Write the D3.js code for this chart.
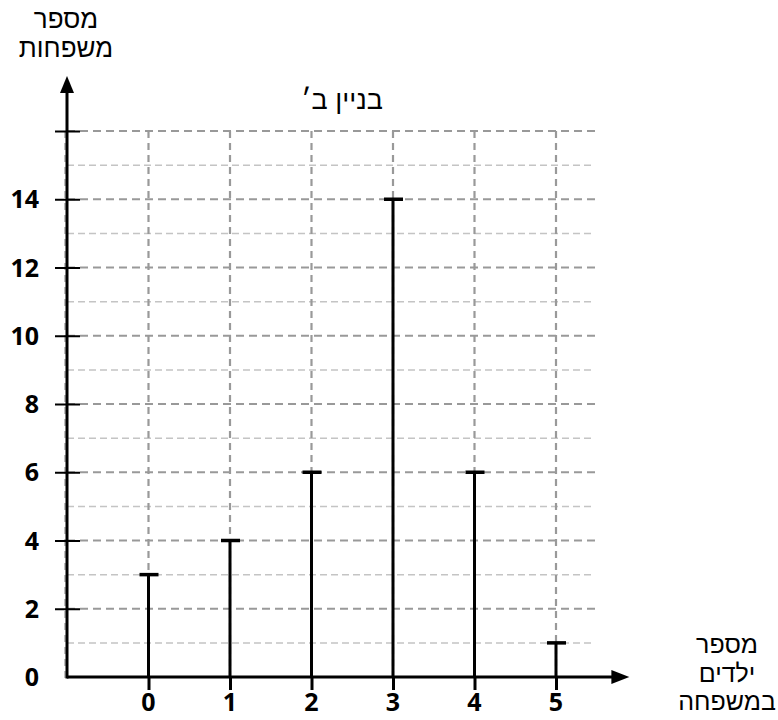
<!DOCTYPE html>
<html lang="he">
<head>
<meta charset="UTF-8">
<title>בניין ב׳</title>
<style>
  body { margin: 0; background: #fff; }
  .num text { font-family: "Open Sans", sans-serif; font-weight: 700; font-size: 25px; fill: #000; }
  .heb { font-family: "Liberation Sans", "DejaVu Sans", sans-serif; fill: #000; }
</style>
</head>
<body>
<svg id="svg" width="778" height="720"></svg>
<script src="https://d3js.org/d3.v7.min.js"></script>
<script>
  // data
  const children = [0, 1, 2, 3, 4, 5]
  const families = [3, 4, 6, 14, 6, 1]
  const yTicks = [2, 4, 6, 8, 10, 12, 14, 16]
  const yLabels = [0, 2, 4, 6, 8, 10, 12, 14]
  const minorTicks = [1, 3, 5, 7, 9, 11, 13, 15]

  const svg = d3.select('#svg')

  // scales
  const x = d3.scaleLinear().domain([-1, 5]).range([67, 556])
  const y = d3.scaleLinear().domain([0, 16]).range([677, 131])

  const xMin = x(-1), xGrid = 598, xEnd = x(5.9)
  const yTop = y(16), yEnd = 76

  // grid
  const grid = svg.append('g')
  grid.selectAll('.minor').data(minorTicks).enter().append('line')
    .attr('x1', xMin).attr('x2', xGrid - 3)
    .attr('y1', d => y(d)).attr('y2', d => y(d))
    .attr('stroke', '#c4c4c4').attr('stroke-width', 1.5)
    .attr('stroke-dasharray', '7,4')
  grid.selectAll('.major').data(yTicks).enter().append('line')
    .attr('x1', xMin).attr('x2', xGrid)
    .attr('y1', d => y(d)).attr('y2', d => y(d))
    .attr('stroke', '#999').attr('stroke-width', 2)
    .attr('stroke-dasharray', '8,5')
  grid.selectAll('.vert').data(children).enter().append('line')
    .attr('x1', d => x(d)).attr('x2', d => x(d))
    .attr('y1', yTop).attr('y2', y(0))
    .attr('stroke', '#999').attr('stroke-width', 2.2)
    .attr('stroke-dasharray', '7,5')
  grid.append('line')
    .attr('x1', xMin - 2).attr('x2', xMin - 2)
    .attr('y1', yTop).attr('y2', y(0) + 6)
    .attr('stroke', '#aaa').attr('stroke-width', 1.5)
    .attr('stroke-dasharray', '7,5')

  // bars (stick + cap)
  const bars = svg.append('g').attr('stroke', '#000').attr('stroke-width', 3)
  bars.selectAll('.stick').data(children).enter().append('line')
    .attr('x1', d => x(d)).attr('x2', d => x(d))
    .attr('y1', y(0)).attr('y2', (d, i) => y(families[i]))
  bars.selectAll('.cap').data(children).enter().append('line')
    .attr('x1', d => x(d) - 9).attr('x2', d => x(d) + 10)
    .attr('y1', (d, i) => y(families[i])).attr('y2', (d, i) => y(families[i]))
    .attr('stroke-width', 3.5)

  // y axis
  const leftAxis = d3.axisLeft(y).tickValues(yTicks).tickSize(12).tickFormat('')
  const yAxis = svg.append('g').attr('transform', `translate(${xMin},0)`).call(leftAxis)
  yAxis.select('.domain').remove()
  yAxis.selectAll('.tick line').attr('x1', 13).attr('stroke', '#000').attr('stroke-width', 2)

  const yLab = svg.append('g').attr('class', 'num')
  yLab.selectAll('text').data(yLabels).enter().append('text')
    .attr('x', 39).attr('y', d => y(d) + 9)
    .attr('text-anchor', 'end')
    .text(d => d)

  // x axis
  const bottomAxis = d3.axisBottom(x).tickValues(children).tickSize(13).tickFormat('')
  const xAxis = svg.append('g').attr('transform', `translate(0,${y(0)})`).call(bottomAxis)
  xAxis.select('.domain').remove()
  xAxis.selectAll('.tick line').attr('stroke', '#000').attr('stroke-width', 3)

  const xLab = svg.append('g').attr('class', 'num')
  xLab.selectAll('text').data(children).enter().append('text')
    .attr('x', d => x(d)).attr('y', 711)
    .attr('text-anchor', 'middle')
    .text(d => d)

  // axis lines with arrows
  svg.append('line')
    .attr('x1', xMin).attr('x2', xMin)
    .attr('y1', y(0) + 1.5).attr('y2', yEnd + 12)
    .attr('stroke', '#000').attr('stroke-width', 3)
  svg.append('path')
    .attr('d', `M${xMin},${yEnd} L${xMin - 7},${yEnd + 17} L${xMin + 7},${yEnd + 17} Z`)
    .attr('fill', '#000')
  svg.append('line')
    .attr('x1', xMin).attr('x2', xEnd - 12)
    .attr('y1', y(0)).attr('y2', y(0))
    .attr('stroke', '#000').attr('stroke-width', 3)
  svg.append('path')
    .attr('d', `M${xEnd},${y(0)} L${xEnd - 18},${y(0) - 7} L${xEnd - 18},${y(0) + 7} Z`)
    .attr('fill', '#000')

  // texts
  svg.append('text').attr('class', 'heb')
    .attr('x', 342).attr('y', 109).attr('text-anchor', 'middle')
    .attr('font-size', 27).text('בניין ב׳')

  const yTitle = ['מספר', 'משפחות']
  svg.append('g').selectAll('text').data(yTitle).enter().append('text')
    .attr('class', 'heb')
    .attr('x', 66).attr('y', (d, i) => 28 + i * 29)
    .attr('text-anchor', 'middle').attr('font-size', 26)
    .text(d => d)

  const xTitle = ['מספר', 'ילדים', 'במשפחה']
  svg.append('g').selectAll('text').data(xTitle).enter().append('text')
    .attr('class', 'heb')
    .attr('x', 727).attr('y', (d, i) => 653 + i * 28.5)
    .attr('text-anchor', 'middle').attr('font-size', 25)
    .text(d => d)
</script>
</body>
</html>
